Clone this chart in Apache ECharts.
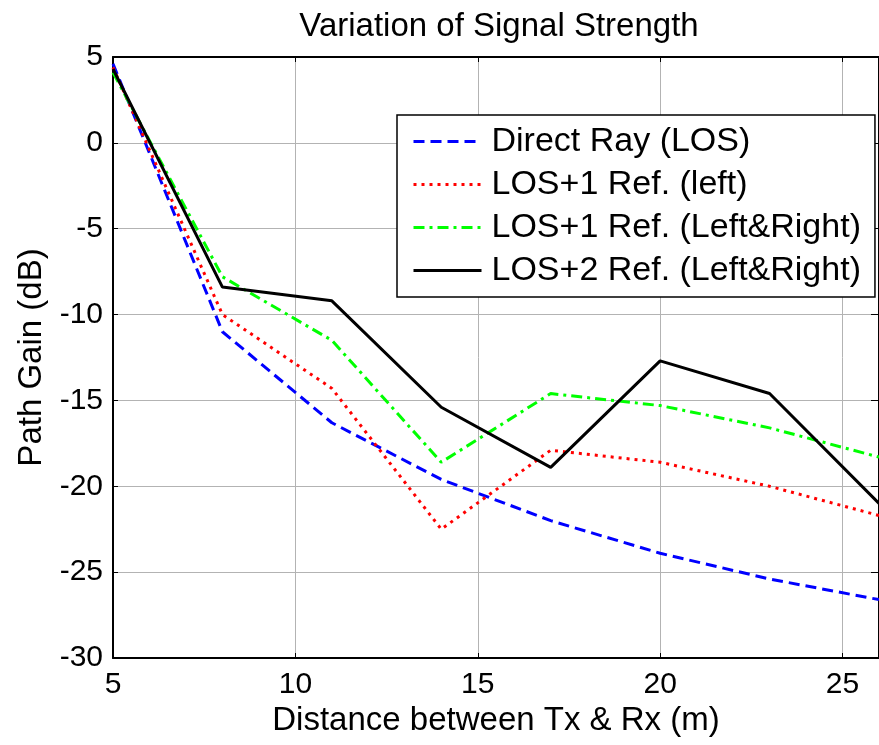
<!DOCTYPE html>
<html><head><meta charset="utf-8">
<script src="https://cdn.jsdelivr.net/npm/echarts@6/dist/echarts.min.js"></script>
<style>html,body{margin:0;padding:0;background:#fff}#c{width:879px;height:745px}</style>
</head><body><div id="c"></div>
<script>
const distances = [5, 8, 11, 14, 17, 20, 23, 26];
const directRay = [4.6, -11.0, -16.3, -19.6, -22.0, -23.9, -25.4, -26.6];
const los1Left = [4.4, -10.0, -14.3, -22.5, -17.9, -18.6, -20.0, -21.7];
const los1LeftRight = [4.1, -7.8, -11.5, -18.6, -14.6, -15.3, -16.6, -18.3];
const los2LeftRight = [4.3, -8.4, -9.2, -15.4, -18.9, -12.7, -14.6, -21.0];
const seriesNames = ['Direct Ray (LOS)', 'LOS+1 Ref. (left)', 'LOS+1 Ref. (Left&Right)', 'LOS+2 Ref. (Left&Right)'];
const xTicks = [5, 10, 15, 20, 25];
const yTicks = [-30, -25, -20, -15, -10, -5, 0, 5];

const F = 'Liberation Sans, Arial, sans-serif';
const pairs = arr => distances.map((d, i) => [d, arr[i]]);
const chart = echarts.init(document.getElementById('c'));
const mk = (name, data, color, type) => ({
  name, type: 'line', data: pairs(data), symbol: 'none',
  lineStyle: { color, width: 3, type }, itemStyle: { color }, z: 3
});
chart.setOption({
  animation: false,
  title: { text: 'Variation of Signal Strength', left: 494, textAlign: 'center', top: 5,
    textStyle: { fontFamily: F, fontSize: 33, fontWeight: 'normal', color: '#000' } },
  grid: { left: 113, right: -3, top: 57, bottom: 87, containLabel: false },
  legend: {
    orient: 'vertical', left: 397, top: 115, data: seriesNames,
    backgroundColor: '#fff', borderColor: '#000', borderWidth: 1.5,
    padding: [5, 14, 5, 15], itemGap: 0, itemWidth: 68, itemHeight: 12,
    itemStyle: { opacity: 0 },
    lineStyle: { width: 3 },
    textStyle: { fontFamily: F, fontSize: 34, color: '#000', lineHeight: 43, padding: [0, 0, 0, 5] }
  },
  xAxis: [{
    type: 'value', min: 5, max: 26, interval: 5,
    axisLabel: { fontFamily: F, fontSize: 30, color: '#000', margin: 12,
      customValues: xTicks, formatter: v => String(v) },
    axisTick: { inside: true, length: 5, lineStyle: { color: '#000' }, customValues: xTicks },
    axisLine: { onZero: false, lineStyle: { color: '#000', width: 2 } },
    splitLine: { show: true, lineStyle: { color: '#b3b3b3', width: 1 } },
    name: 'Distance between Tx & Rx (m)', nameLocation: 'middle', nameGap: 44,
    nameTextStyle: { fontFamily: F, fontSize: 33, color: '#000' }
  }, {
    type: 'value', position: 'top', min: 5, max: 26, interval: 5,
    axisLabel: { show: false },
    axisTick: { inside: true, length: 5, lineStyle: { color: '#000' } },
    axisLine: { onZero: false, lineStyle: { color: '#000', width: 2 } },
    splitLine: { show: false }
  }],
  yAxis: [{
    type: 'value', min: -30, max: 5, interval: 5,
    axisLabel: { fontFamily: F, fontSize: 30, color: '#000', margin: 10,
      customValues: yTicks },
    axisTick: { inside: true, length: 5, lineStyle: { color: '#000' } },
    axisLine: { onZero: false, lineStyle: { color: '#000', width: 2 } },
    splitLine: { show: true, lineStyle: { color: '#b3b3b3', width: 1 } },
    name: 'Path Gain (dB)', nameLocation: 'middle', nameGap: 64, nameRotate: 90,
    nameTextStyle: { fontFamily: F, fontSize: 33, color: '#000' }
  }, {
    type: 'value', position: 'right', min: -30, max: 5, interval: 5,
    axisLabel: { show: false },
    axisTick: { inside: true, length: 8, lineStyle: { color: '#000' } },
    axisLine: { onZero: false, lineStyle: { color: '#000', width: 2 } },
    splitLine: { show: false }
  }],
  series: [
    mk(seriesNames[0], directRay, '#0000ff', [11, 6]),
    mk(seriesNames[1], los1Left, '#ff0000', [3, 5]),
    mk(seriesNames[2], los1LeftRight, '#00ff00', [11, 5, 3, 5]),
    mk(seriesNames[3], los2LeftRight, '#000000', 'solid')
  ]
});
</script></body></html>
